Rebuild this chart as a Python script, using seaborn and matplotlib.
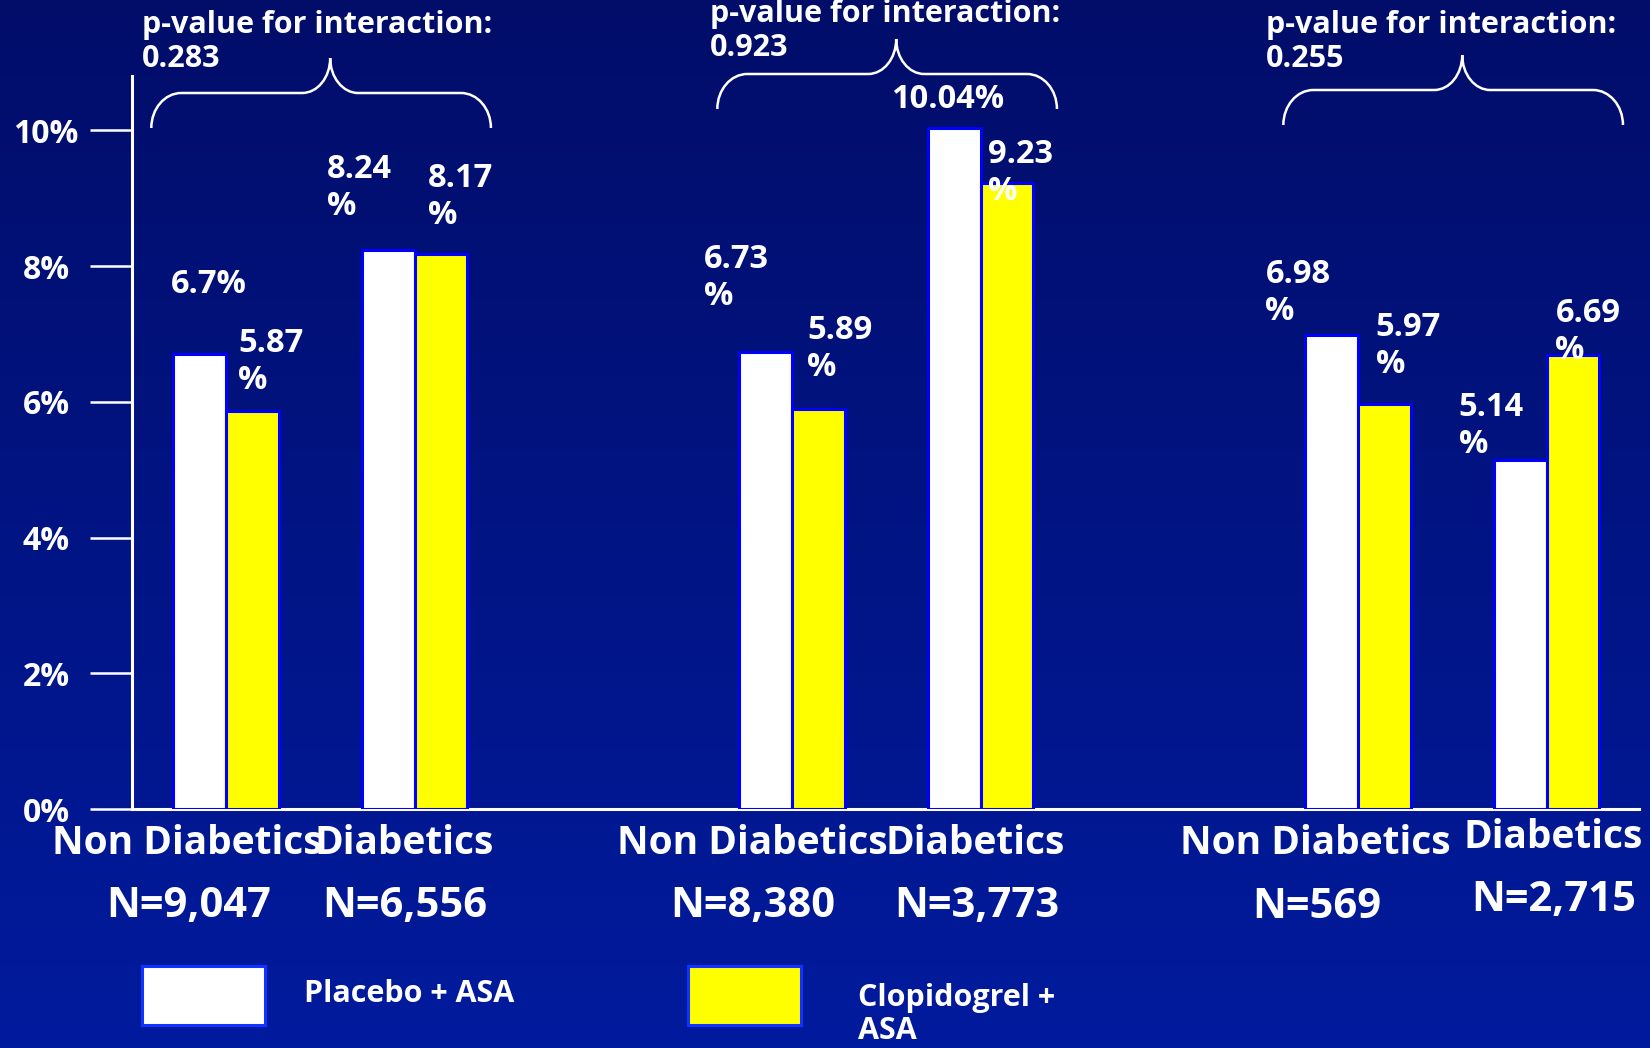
import matplotlib
matplotlib.use("Agg")
import numpy as np
import pandas as pd
import matplotlib.pyplot as plt
import matplotlib.transforms as mtransforms
from matplotlib.colors import LinearSegmentedColormap
from matplotlib.path import Path
from matplotlib.patches import PathPatch, Rectangle
import seaborn as sns

# ---- data -----------------------------------------------------------------
group_ids = ["A", "B", "C"]
subgroups = ["Non Diabetics", "Diabetics"]
arms = ["Placebo + ASA", "Clopidogrel + ASA"]
placebo_rates = [6.70, 8.24, 6.73, 10.04, 6.98, 5.14]
clopidogrel_rates = [5.87, 8.17, 5.89, 9.23, 5.97, 6.69]
n_labels = ["N=9,047", "N=6,556", "N=8,380", "N=3,773", "N=569", "N=2,715"]
p_values = ["0.283", "0.923", "0.255"]
ytick_values = [0, 2, 4, 6, 8, 10]

# ---- layout / styling -----------------------------------------------------
W, H, DPI = 1650, 1048, 100
BG_TOP, BG_BOTTOM = "#020d69", "#011b9e"
BAR_EDGE = "#0000ff"
arm_colors = {arms[0]: "#ffffff", arms[1]: "#ffff00"}
TXT = "white"

# value label placement: (x shift in slot units, y shift in points, wrap "%")
placebo_label_pos = [(-0.29, 50, False), (-0.465, 58, True), (-0.465, 67, True),
                     (-0.474, 20, False), (-0.49, 44, True), (-0.465, 38, True)]
clopi_label_pos = [(0.067, 48, True), (0.07, 55, True), (0.08, 57, True),
                   (0.04, 20, True), (0.095, 55, True), (0.047, 30, True)]
# category / N label x-shift per subgroup slot, and y (px from top)
cat_dx = [-0.206, -0.053, -0.209, -0.028, -0.223, 0.036]
cat_y = [843, 843, 843, 843, 843, 837]
n_dx = [-0.195, -0.053, -0.209, -0.022, -0.217, 0.036]
n_y = [907, 907, 907, 907, 907, 901]
# brace geometry per group (horizontal bar y in px from top)
brace_y = [93, 74, 90]
pval_x = [-0.446, 2.568, 5.515]
pval_y = [25, 14, 25]

sns.set_style("ticks")
plt.rcParams["font.family"] = ["Open Sans", "DejaVu Sans"]
plt.rcParams["font.weight"] = "bold"

# ---- tidy table -----------------------------------------------------------
slot_order = []
for gi, g in enumerate(group_ids):
    for s in subgroups:
        slot_order.append(f"{g}|{s}")
    if gi < len(group_ids) - 1:
        slot_order.append(f"{g}|")
subgroup_slots = [k for k in slot_order if not k.endswith("|")]

rows = []
for key, pr, cr in zip(subgroup_slots, placebo_rates, clopidogrel_rates):
    rows.append({"slot": key, "arm": arms[0], "rate": pr})
    rows.append({"slot": key, "arm": arms[1], "rate": cr})
df = pd.DataFrame(rows)

# ---- figure ---------------------------------------------------------------
fig = plt.figure(figsize=(W / DPI, H / DPI), dpi=DPI)

bg = fig.add_axes([0, 0, 1, 1], zorder=-10)
grad = np.linspace(0, 1, 256).reshape(-1, 1)
bg.imshow(grad, aspect="auto", extent=[0, 1, 0, 1], origin="upper",
          cmap=LinearSegmentedColormap.from_list("bg", [BG_TOP, BG_BOTTOM]))
bg.set_axis_off()

ax = fig.add_axes([131.5 / W, 1 - 809 / H, (1639 - 131.5) / W, (809 - 76) / H])
ax.set_facecolor("none")

sns.barplot(data=df, x="slot", y="rate", hue="arm", order=slot_order,
            hue_order=arms, palette=arm_colors, saturation=1, width=0.56,
            gap=0, errorbar=None, edgecolor=BAR_EDGE, linewidth=2.2,
            legend=False, ax=ax)
for p in ax.patches:
    p.set_zorder(3)

ax.set_xlim(-0.5, 7.49)
ax.set_ylim(0, 10.8)
ax.set_xticks([])
ax.set_xlabel("")
ax.set_ylabel("")

for side in ("top", "right"):
    ax.spines[side].set_visible(False)
for side in ("left", "bottom"):
    ax.spines[side].set_color("white")
    ax.spines[side].set_linewidth(2.2)

ax.set_yticks(ytick_values)
ax.set_yticklabels([f"{v}%" for v in ytick_values])
ax.set_yticks(ytick_values, minor=True)
ax.tick_params(axis="y", which="major", direction="out", length=30.6,
               width=1.8, color="white", labelcolor=TXT, labelsize=23, pad=31)
ax.tick_params(axis="y", which="minor", direction="in", length=9,
               width=1.8, color="white", labelleft=False)
plt.setp(ax.get_yticklabels(), ha="center", fontweight="bold")

# ---- value labels ---------------------------------------------------------
slot_index = {k: i for i, k in enumerate(slot_order)}
LINE_GAP = 26.6  # points between number and wrapped "%"
for rates, positions in ((placebo_rates, placebo_label_pos),
                         (clopidogrel_rates, clopi_label_pos)):
    for key, v, (dx, dy, wrap) in zip(subgroup_slots, rates, positions):
        x = slot_index[key] + dx
        lines = [f"{v:g}", "%"] if wrap else [f"{v:g}%"]
        for li, line in enumerate(lines):
            ax.annotate(line, xy=(x, v), xytext=(0, dy - li * LINE_GAP),
                        textcoords="offset points", ha="left", va="center",
                        color=TXT, fontsize=23.5, fontweight="bold",
                        zorder=6, annotation_clip=False)

# ---- category and N labels ------------------------------------------------
blend = mtransforms.blended_transform_factory(ax.transData, fig.transFigure)
for i, key in enumerate(subgroup_slots):
    xs = slot_index[key]
    name = key.split("|")[1]
    fig.text(xs + cat_dx[i], 1 - cat_y[i] / H, name, transform=blend,
             ha="center", va="center", color=TXT, fontsize=28,
             fontweight="bold")
    fig.text(xs + n_dx[i], 1 - n_y[i] / H, n_labels[i], transform=blend,
             ha="center", va="center", color=TXT, fontsize=30,
             fontweight="bold")

# ---- braces with interaction p-values --------------------------------------
fig.canvas.draw()


def to_px(xdata):
    return ax.transData.transform((xdata, 0))[0]


K = 0.5523
for gi in range(len(group_ids)):
    gc = slot_index[f"{group_ids[gi]}|{subgroups[0]}"] + 0.5
    xl, xr = to_px(gc + 0.005 - 0.90), to_px(gc + 0.005 + 0.90)
    xc = to_px(gc + 0.053)
    yh = H - brace_y[gi]
    ye = yh - 35
    yt = yh + 35
    rx, cx = 30, 28
    verts = [
        (xl, ye), (xl, ye + K * (yh - ye)), (xl + rx - K * rx, yh), (xl + rx, yh),
        (xc - cx, yh),
        (xc - cx + K * cx, yh), (xc, yt - K * (yt - yh)), (xc, yt),
        (xc, yt - K * (yt - yh)), (xc + cx - K * cx, yh), (xc + cx, yh),
        (xr - rx, yh),
        (xr - rx + K * rx, yh), (xr, ye + K * (yh - ye)), (xr, ye),
    ]
    codes = ([Path.MOVETO] + [Path.CURVE4] * 3 + [Path.LINETO]
             + [Path.CURVE4] * 3 + [Path.CURVE4] * 3 + [Path.LINETO]
             + [Path.CURVE4] * 3)
    verts = [(x / W, y / H) for x, y in verts]
    fig.add_artist(PathPatch(Path(verts, codes), transform=fig.transFigure,
                             fill=False, edgecolor="white", linewidth=1.8))
    fig.text(pval_x[gi], 1 - pval_y[gi] / H, "p-value for interaction:",
             transform=blend, ha="left", va="center", color=TXT,
             fontsize=22, fontweight="bold")
    fig.text(pval_x[gi], 1 - (pval_y[gi] + 33.7) / H, p_values[gi],
             transform=blend, ha="left", va="center", color=TXT,
             fontsize=22, fontweight="bold")

# ---- legend -----------------------------------------------------------------
legend_boxes = [(142, 123), (688, 113)]
legend_text_x = [304, 858]
legend_text_lines = [[arms[0]], arms[1].rsplit(" ", 1)]
legend_text_y0 = [994, 998]
for arm, (bx, bw), tx, lines, ty in zip(arms, legend_boxes, legend_text_x,
                                        legend_text_lines, legend_text_y0):
    fig.add_artist(Rectangle((bx / W, 1 - 1025 / H), bw / W, 59 / H,
                             transform=fig.transFigure,
                             facecolor=arm_colors[arm], edgecolor="#1133ff",
                             linewidth=2.2))
    for li, line in enumerate(lines):
        fig.text(tx / W, 1 - (ty + li * 33) / H, line, ha="left",
                 va="center", color=TXT, fontsize=22, fontweight="bold")

fig.savefig("out.png", dpi=DPI, facecolor=BG_BOTTOM)
